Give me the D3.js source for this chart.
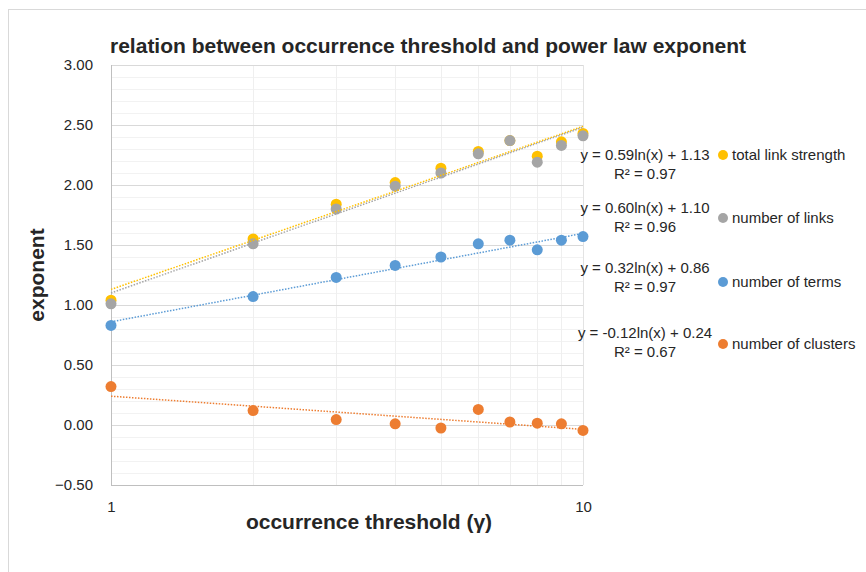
<!DOCTYPE html>
<html>
<head>
<meta charset="utf-8">
<script src="https://cdn.jsdelivr.net/npm/d3@7"></script>
<style>
  body { margin: 0; background: #fff; }
  text { font-family: "Liberation Sans Narrow", "Liberation Sans", Arial, sans-serif; fill: #262626; }
</style>
</head>
<body>
<svg id="chart" width="866" height="572"></svg>
<script>
// thresholds (x) and the four series
var thresholds = [1, 2, 3, 4, 5, 6, 7, 8, 9, 10];
var linkStrength = [1.04, 1.55, 1.84, 2.02, 2.14, 2.28, 2.37, 2.24, 2.36, 2.43];
var numLinks     = [1.01, 1.51, 1.80, 1.99, 2.10, 2.26, 2.37, 2.19, 2.33, 2.41];
var numTerms     = [0.83, 1.07, 1.23, 1.33, 1.40, 1.51, 1.54, 1.46, 1.54, 1.57];
var numClusters  = [0.32, 0.12, 0.045, 0.01, -0.025, 0.13, 0.025, 0.015, 0.01, -0.045];

var seriesNames = ["total link strength", "number of links", "number of terms", "number of clusters"];
var seriesColors = ["#FFC000", "#A5A5A5", "#5B9BD5", "#ED7D31"];
// log trendlines y = a ln(x) + b as labelled
var trendA = [0.59, 0.60, 0.32, -0.12];
var trendB = [1.13, 1.10, 0.86, 0.24];
var trendR2 = ["0.97", "0.96", "0.97", "0.67"];
var yTicks = [-0.5, 0, 0.5, 1, 1.5, 2, 2.5, 3];

var allSeries = [linkStrength, numLinks, numTerms, numClusters];

var svg = d3.select("#chart");

// chart area border
svg.append("rect")
  .attr("x", 8.5).attr("y", 9.5)
  .attr("width", 900).attr("height", 600)
  .attr("fill", "none").attr("stroke", "#d9d9d9");

var x = d3.scaleLog().domain([1, 10]).range([111, 583]);
var y = d3.scaleLinear().domain([-0.5, 3]).range([485, 65]);

var grid = svg.append("g");

// minor horizontal lines every 0.1
d3.range(-5, 31).forEach(function(i) {
  var v = i / 10;
  if (i % 5 === 0) return;
  grid.append("line")
    .attr("x1", x(1)).attr("x2", x(10))
    .attr("y1", Math.round(y(v)) + 0.5).attr("y2", Math.round(y(v)) + 0.5)
    .attr("stroke", "#f2f2f2");
});
// vertical log gridlines
d3.range(2, 11).forEach(function(v) {
  grid.append("line")
    .attr("x1", Math.round(x(v)) + 0.5).attr("x2", Math.round(x(v)) + 0.5)
    .attr("y1", y(3)).attr("y2", y(-0.5))
    .attr("stroke", v === 10 ? "#e3e3e3" : "#efefef");
});
// major horizontal lines
yTicks.forEach(function(v) {
  grid.append("line")
    .attr("x1", x(1)).attr("x2", x(10))
    .attr("y1", Math.round(y(v)) + 0.5).attr("y2", Math.round(y(v)) + 0.5)
    .attr("stroke", "#d9d9d9");
});

// axes lines
svg.append("line")
  .attr("x1", x(1) + 0.5).attr("x2", x(1) + 0.5)
  .attr("y1", y(3)).attr("y2", y(-0.5))
  .attr("stroke", "#bfbfbf");
svg.append("line")
  .attr("x1", x(1)).attr("x2", x(10))
  .attr("y1", y(-0.5) + 0.5).attr("y2", y(-0.5) + 0.5)
  .attr("stroke", "#bfbfbf");

// y tick labels
var yAxis = d3.axisLeft(y).tickValues(yTicks).tickSize(0).tickPadding(18)
  .tickFormat(d3.format(".2f"));
var gy = svg.append("g").attr("transform", "translate(" + x(1) + ",0)").call(yAxis);
gy.select(".domain").remove();
gy.selectAll("text").style("font-size", "15px").attr("fill", "#262626")
  .style("font-family", "'Liberation Sans Narrow', 'Liberation Sans', sans-serif");

// x tick labels
var xAxis = d3.axisBottom(x).tickValues([1, 10]).tickSize(0).tickPadding(16)
  .tickFormat(d3.format("d"));
var gx = svg.append("g").attr("transform", "translate(0," + y(-0.5) + ")").call(xAxis);
gx.select(".domain").remove();
gx.selectAll("text").style("font-size", "15px").attr("fill", "#262626")
  .style("font-family", "'Liberation Sans Narrow', 'Liberation Sans', sans-serif");

// markers
allSeries.forEach(function(vals, si) {
  svg.append("g").selectAll("circle")
    .data(vals)
    .enter().append("circle")
    .attr("cx", function(d, i) { return x(thresholds[i]); })
    .attr("cy", function(d) { return y(d); })
    .attr("r", 5.5)
    .attr("fill", seriesColors[si]);
});

// trendlines
trendA.forEach(function(a, si) {
  var pts = [1, 10].map(function(t) { return [x(t), y(a * Math.log(t) + trendB[si])]; });
  svg.append("path")
    .attr("d", d3.line()(pts))
    .attr("stroke", seriesColors[si])
    .attr("stroke-width", 1.5)
    .attr("stroke-dasharray", "1.5,1.5")
    .attr("fill", "none");
});

// trendline labels
var eqY = [155, 208, 268, 333];
var legY = [155, 218, 282, 344];
trendA.forEach(function(a, si) {
  var eq = "y = " + a.toFixed(2) + "ln(x) + " + trendB[si].toFixed(2);
  svg.append("text")
    .attr("x", 645).attr("y", eqY[si])
    .attr("dy", "0.35em")
    .attr("text-anchor", "middle")
    .style("font-size", "15px")
    .text(eq);
  svg.append("text")
    .attr("x", 645).attr("y", eqY[si] + 18.5)
    .attr("dy", "0.35em")
    .attr("text-anchor", "middle")
    .style("font-size", "15px")
    .text("R\u00b2 = " + trendR2[si]);
});

// legend
seriesNames.forEach(function(name, si) {
  svg.append("circle")
    .attr("cx", 723).attr("cy", legY[si]).attr("r", 5)
    .attr("fill", seriesColors[si]);
  svg.append("text")
    .attr("x", 732).attr("y", legY[si])
    .attr("dy", "0.35em")
    .style("font-size", "15px")
    .text(name);
});

// title and axis titles
svg.append("text")
  .attr("x", 428).attr("y", 46)
  .attr("dy", "0.35em")
  .attr("text-anchor", "middle")
  .style("font-size", "21px").style("font-weight", "bold")
  .attr("fill", "#000")
  .text("relation between occurrence threshold and power law exponent");

svg.append("text")
  .attr("transform", "translate(37,275) rotate(-90)")
  .attr("dy", "0.35em")
  .attr("text-anchor", "middle")
  .style("font-size", "21px").style("font-weight", "bold")
  .attr("fill", "#000")
  .text("exponent");

svg.append("text")
  .attr("x", 369).attr("y", 522)
  .attr("dy", "0.35em")
  .attr("text-anchor", "middle")
  .style("font-size", "21px").style("font-weight", "bold")
  .attr("fill", "#000")
  .text("occurrence threshold (\u03b3)");
</script>
</body>
</html>
